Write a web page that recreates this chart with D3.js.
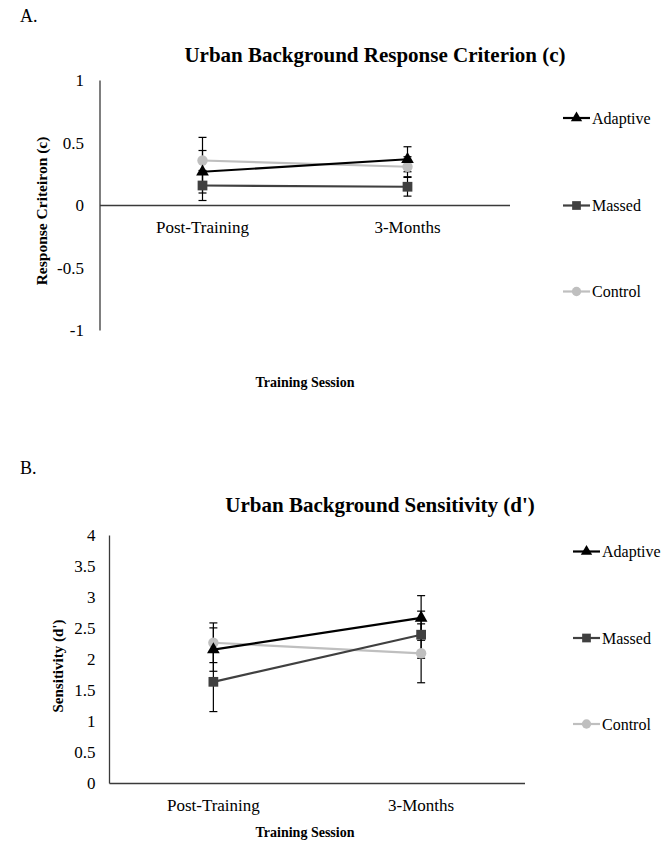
<!DOCTYPE html>
<html>
<head>
<meta charset="utf-8">
<script src="https://cdn.jsdelivr.net/npm/d3@7"></script>
<style>
  body { margin: 0; background: #fff; }
  svg text { font-family: "Liberation Serif", "Times New Roman", serif; fill: #000; }
</style>
</head>
<body>
<svg id="chart" width="672" height="845"></svg>
<script>
// sessions on the x axis
var sessions = ["Post-Training", "3-Months"];
var groups = ["Adaptive", "Massed", "Control"];

// panel A: response criterion (c)
var critAdaptive = [0.27, 0.37];
var critMassed = [0.16, 0.15];
var critControl = [0.36, 0.31];
var critErrAdaptive = [0.17, 0.10];
var critErrMassed = [0.12, 0.075];
var critErrControl = [0.185, 0.08];
var critTicks = [-1, -0.5, 0, 0.5, 1];

// panel B: sensitivity (d')
var sensAdaptive = [2.16, 2.67];
var sensMassed = [1.64, 2.40];
var sensControl = [2.27, 2.10];
var sensErrAdaptive = [0.35, 0.36];
var sensErrMassed = [0.48, 0.38];
var sensErrControl = [0.32, 0.475];
var sensTicks = [0, 0.5, 1, 1.5, 2, 2.5, 3, 3.5, 4];

var colors = { Adaptive: "#000000", Massed: "#404040", Control: "#bfbfbf" };
var shapes = { Adaptive: d3.symbolTriangle, Massed: d3.symbolSquare, Control: d3.symbolCircle };
var sizes = { Adaptive: 70, Massed: 95, Control: 85 };

var svg = d3.select("#chart");

function drawPanel(opt) {
    var g = svg.append("g");

    g.append("text").attr("x", 20).attr("y", opt.letterY)
        .attr("font-size", 18).text(opt.letter);
    g.append("text").attr("x", opt.titleX).attr("y", opt.titleY)
        .attr("text-anchor", "middle").attr("font-size", 21).attr("font-weight", "bold")
        .text(opt.title);

    var x = d3.scaleBand().domain(sessions).range([opt.left, opt.right]);
    var y = d3.scaleLinear().domain(opt.domain).range([opt.bottom, opt.top]);

    // y axis line and labels
    g.append("line").attr("x1", opt.left).attr("x2", opt.left)
        .attr("y1", y(opt.domain[0])).attr("y2", y(opt.domain[1]))
        .attr("stroke", "#3a3a3a").attr("stroke-width", 1.3);
    g.selectAll(".ytick").data(opt.ticks).enter().append("text")
        .attr("x", opt.left - opt.tickGap).attr("y", function(d) { return y(d); })
        .attr("dy", "0.35em").attr("text-anchor", "end").attr("font-size", 17)
        .text(function(d) { return d; });

    // x axis at zero
    g.append("line").attr("x1", opt.left).attr("x2", opt.right)
        .attr("y1", y(0)).attr("y2", y(0))
        .attr("stroke", "#3a3a3a").attr("stroke-width", 1.3);
    g.selectAll(".xtick").data(sessions).enter().append("text")
        .attr("x", function(d) { return x(d) + x.bandwidth() / 2; })
        .attr("y", opt.xTickY).attr("text-anchor", "middle").attr("font-size", 17)
        .text(function(d) { return d; });

    g.append("text").attr("x", opt.xLabelX).attr("y", opt.xLabelY)
        .attr("text-anchor", "middle").attr("font-size", 14).attr("font-weight", "bold")
        .text("Training Session");
    g.append("text")
        .attr("transform", "translate(" + opt.yLabelX + "," + opt.yLabelY + ") rotate(-90)")
        .attr("text-anchor", "middle").attr("font-size", opt.yLabelSize).attr("font-weight", "bold")
        .text(opt.yLabel);

    var cx = function(i) { return x(sessions[i]) + x.bandwidth() / 2; };

    // error bars first
    groups.forEach(function(name) {
        var vals = opt.series[name], errs = opt.errors[name];
        vals.forEach(function(v, i) {
            var top = y(v + errs[i]), bot = y(v - errs[i]);
            g.append("line").attr("x1", cx(i)).attr("x2", cx(i)).attr("y1", top).attr("y2", bot)
                .attr("stroke", "#000").attr("stroke-width", 1.2);
            [top, bot].forEach(function(yy) {
                g.append("line").attr("x1", cx(i) - 4).attr("x2", cx(i) + 4)
                    .attr("y1", yy).attr("y2", yy).attr("stroke", "#000").attr("stroke-width", 1.2);
            });
        });
    });

    var line = d3.line().x(function(d, i) { return cx(i); }).y(function(d) { return y(d); });
    ["Control", "Massed", "Adaptive"].forEach(function(name) {
        var vals = opt.series[name];
        g.append("path").datum(vals).attr("d", line).attr("fill", "none")
            .attr("stroke", colors[name]).attr("stroke-width", 2.2);
        vals.forEach(function(v, i) {
            g.append("path").attr("d", d3.symbol().type(shapes[name]).size(sizes[name])())
                .attr("transform", "translate(" + cx(i) + "," + y(v) + ")")
                .attr("fill", colors[name]);
        });
    });

    // legend
    groups.forEach(function(name, k) {
        var ly = opt.legendY[k], lx = opt.legendX;
        g.append("line").attr("x1", lx).attr("x2", lx + 27).attr("y1", ly).attr("y2", ly)
            .attr("stroke", colors[name]).attr("stroke-width", 2.2);
        g.append("path").attr("d", d3.symbol().type(shapes[name]).size(sizes[name] * 0.8)())
            .attr("transform", "translate(" + (lx + 13.5) + "," + ly + ")")
            .attr("fill", colors[name]);
        g.append("text").attr("x", lx + 29).attr("y", ly).attr("dy", "0.35em")
            .attr("font-size", 16).text(name);
    });
}

drawPanel({
    letter: "A.", letterY: 22,
    title: "Urban Background Response Criterion (c)", titleX: 375, titleY: 62,
    left: 100, right: 510, top: 80.5, bottom: 330.5, domain: [-1, 1],
    ticks: critTicks, tickGap: 16, xTickY: 233,
    xLabelX: 305, xLabelY: 387, yLabel: "Response Criteiron (c)", yLabelSize: 15.5,
    yLabelX: 47, yLabelY: 211,
    series: { Adaptive: critAdaptive, Massed: critMassed, Control: critControl },
    errors: { Adaptive: critErrAdaptive, Massed: critErrMassed, Control: critErrControl },
    legendX: 563, legendY: [118, 205.5, 291.5]
});

drawPanel({
    letter: "B.", letterY: 474,
    title: "Urban Background Sensitivity (d')", titleX: 380, titleY: 512,
    left: 109.5, right: 525, top: 535.5, bottom: 783.5, domain: [0, 4],
    ticks: sensTicks, tickGap: 14, xTickY: 811,
    xLabelX: 305, xLabelY: 837, yLabel: "Sensitivity (d')", yLabelSize: 15,
    yLabelX: 63, yLabelY: 666,
    series: { Adaptive: sensAdaptive, Massed: sensMassed, Control: sensControl },
    errors: { Adaptive: sensErrAdaptive, Massed: sensErrMassed, Control: sensErrControl },
    legendX: 573, legendY: [551.5, 638, 724]
});
</script>
</body>
</html>
